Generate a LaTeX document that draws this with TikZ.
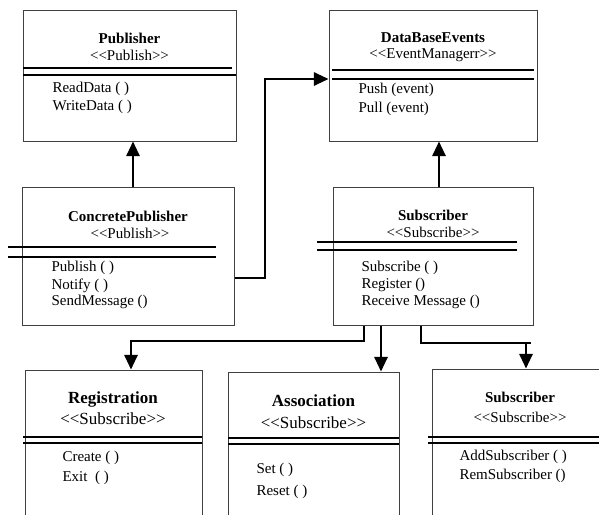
\documentclass[tikz,border=0pt]{standalone}
\usepackage{fontspec}
\setmainfont[Ligatures=NoCommon]{Liberation Serif}
\usetikzlibrary{arrows.meta}
\tikzset{every picture/.style={line width=0.75pt}}
\tikzset{
  classbox/.style={draw=black!75, line width=0.75pt, rectangle, inner sep=0pt},
  boxsize/.style 2 args={minimum width=#1*0.75pt, minimum height=#2*0.75pt},
  sepline/.style={line width=1.3pt},
  conn/.style={line width=1.5pt},
  arr/.style={conn, -{Triangle[length=11pt,width=10pt]}},
  txt/.style={inner sep=0.75pt, font=\fontsize{11.25}{13}\selectfont},
  ttl/.style={inner sep=0.75pt, font=\fontsize{11.25}{13}\selectfont\bfseries},
  bigtxt/.style={inner sep=0.75pt, font=\fontsize{12.75}{15}\selectfont},
  bigttl/.style={inner sep=0.75pt, font=\fontsize{12.75}{15}\selectfont\bfseries}
}

\begin{document}
\begin{tikzpicture}[x=0.75pt,y=0.75pt,yscale=-1,xscale=1]
\clip (0,0) rectangle (599,514);

%Class boxes
\node [classbox, boxsize={213}{131}] (pub) at (129.5,75.5) {};
\node [classbox, boxsize={208}{131}] (dbe) at (433,75.5) {};
\node [classbox, boxsize={212}{138}] (conc) at (128,256) {};
\node [classbox, boxsize={200}{138}] (sub) at (433,256) {};
\node [classbox, boxsize={177}{170}] (reg) at (113.5,455) {};
\node [classbox, boxsize={171}{168}] (assoc) at (313.5,456) {};
\node [classbox, boxsize={208}{171}] (sub2) at (536,454.5) {};

%Separator lines
\draw [sepline] (23,68) -- (232,68) ;
\draw [sepline] (23,75) -- (236,75) ;
\draw [sepline] (332,70) -- (534,70) ;
\draw [sepline] (332,79) -- (534,79) ;
\draw [sepline] (8,247) -- (216,247) ;
\draw [sepline] (8,257) -- (216,257) ;
\draw [sepline] (317,242) -- (517,242) ;
\draw [sepline] (317,250) -- (517,250) ;
\draw [sepline] (23,437) -- (202,437) ;
\draw [sepline] (23,443) -- (202,443) ;
\draw [sepline] (228,438) -- (399,438) ;
\draw [sepline] (228,444) -- (399,444) ;
\draw [sepline] (428,437) -- (599,437) ;
\draw [sepline] (428,443) -- (599,443) ;

% Text Node
\node [ttl] (pubttl) at (129.5,38) {Publisher};
\node [txt] (pubst) at (129.5,55) {<{}<Publish>{}>};
\node [txt, anchor=west] (pubm1) at (51,89) {ReadData ( )};
\node [txt, anchor=west] (pubm2) at (51,107) {WriteData ( )};
% Text Node
\node [ttl] (dbettl) at (433,38) {DataBaseEvents};
\node [txt] (dbest) at (433,55) {<{}<EventManagerr>{}>};
\node [txt, anchor=west] (dbem1) at (357,90) {Push (event)};
\node [txt, anchor=west] (dbem2) at (357,109) {Pull (event)};
% Text Node
\node [ttl] (concttl) at (128,216) {ConcretePublisher};
\node [txt] (concst) at (130,233) {<{}<Publish>{}>};
\node [txt, anchor=west] (concm1) at (50,268) {Publish ( )};
\node [txt, anchor=west] (concm2) at (50,286) {Notify ( )};
\node [txt, anchor=west] (concm3) at (50,302) {SendMessage ()};
% Text Node
\node [ttl] (subttl) at (433,215) {Subscriber};
\node [txt] (subst) at (433,232) {<{}<Subscribe>{}>};
\node [txt, anchor=west] (subm1) at (360,268) {Subscribe ( )};
\node [txt, anchor=west] (subm2) at (360,285) {Register ()};
\node [txt, anchor=west] (subm3) at (360,302) {Receive Message ()};
% Text Node
\node [bigttl] (regttl) at (113,399) {Registration};
\node [bigtxt] (regst) at (113,419) {<{}<Subscribe>{}>};
\node [txt, anchor=west] (regm1) at (61,458) {Create ( )};
\node [txt, anchor=west] (regm2) at (61,478) {Exit~ ( )};
% Text Node
\node [bigttl] (assocttl) at (313.5,401) {Association};
\node [bigtxt] (assocst) at (313.5,423) {<{}<Subscribe>{}>};
\node [txt, anchor=west] (assocm1) at (255,470) {Set ( )};
\node [txt, anchor=west] (assocm2) at (255,492) {Reset ( )};
% Text Node
\node [ttl] (sub2ttl) at (520,397) {Subscriber};
\node [txt] (sub2st) at (520,417) {<{}<Subscribe>{}>};
\node [txt, anchor=west] (sub2m1) at (458,457) {AddSubscriber ( )};
\node [txt, anchor=west] (sub2m2) at (458,476) {RemSubscriber ()};

%Connector positions
\coordinate (xa) at (133,0);
\coordinate (xb) at (265,0);
\coordinate (xc) at (439,0);
\coordinate (xd) at (364,0);
\coordinate (xe) at (131,0);
\coordinate (xf) at (381,0);
\coordinate (xg) at (421,0);
\coordinate (xh) at (531,0);
\coordinate (xi) at (526,0);
\coordinate (ya) at (0,278);
\coordinate (yb) at (0,79);
\coordinate (yc) at (0,341);
\coordinate (yd) at (0,343);

%Connectors
\draw [arr] (conc.north -| xa) -- (pub.south -| xa) ;
\draw [arr] (conc.east |- ya) -| (xb |- yb) -- (dbe.west |- yb) ;
\draw [arr] (sub.north -| xc) -- (dbe.south -| xc) ;
\draw [arr] (sub.south -| xd) |- (xe |- yc) -- (reg.north -| xe) ;
\draw [arr] (sub.south -| xf) -- (assoc.north -| xf) ;
\draw [conn] (sub.south -| xg) |- (xh |- yd) ;
\draw [arr] (xi |- yd) -- (sub2.north -| xi) ;

\end{tikzpicture}
\end{document}
